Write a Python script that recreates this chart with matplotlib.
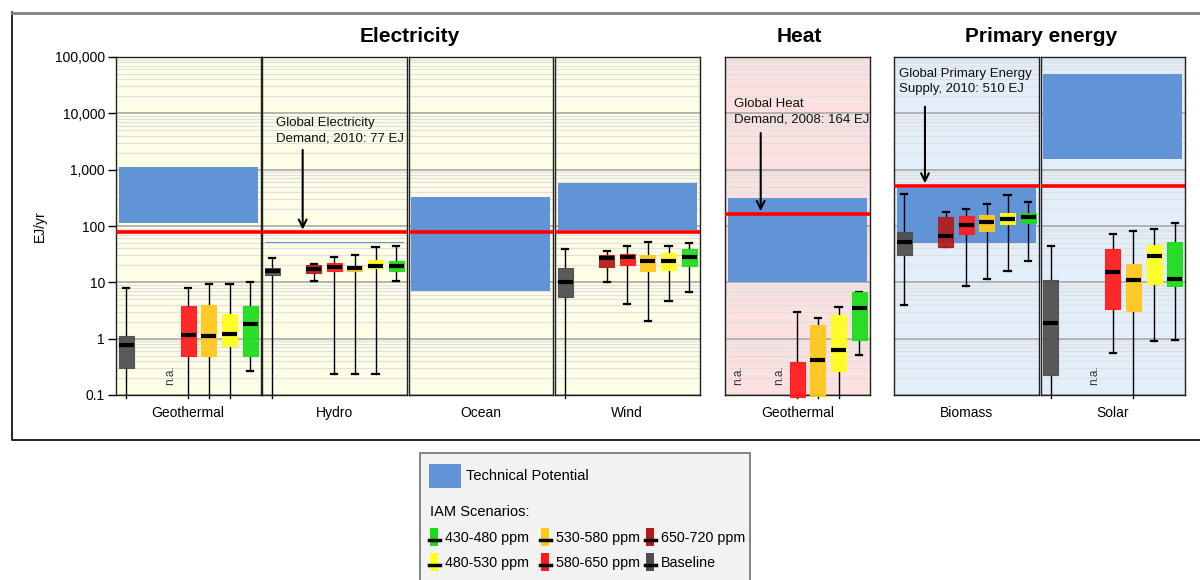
import numpy as np
import matplotlib.pyplot as plt
from matplotlib.patches import Rectangle

plt.rcParams['font.family'] = ['Liberation Sans', 'DejaVu Sans']

# ---------- data (EJ/yr) ----------
series = ['Baseline', '650-720 ppm', '580-650 ppm', '530-580 ppm', '480-530 ppm', '430-480 ppm']
colors = ['#4d4d4d', '#b31b1b', '#ff1a1a', '#ffc81a', '#ffff1a', '#1adc1a']
slots = [0, 2, 3, 4, 5, 6]          # slot 1 is left empty

panels = ['Geothermal', 'Hydro', 'Ocean', 'Wind', 'Geothermal', 'Biomass', 'Solar']
groups = ['Electricity', 'Electricity', 'Electricity', 'Electricity', 'Heat',
          'Primary energy', 'Primary energy']
backgrounds = {'Electricity': '#fefee6', 'Heat': '#fde1e1', 'Primary energy': '#e3eefb'}

# technical potential (low, high)
tech_potential = [(115, 1100), (49.5, 52.5), (7.1, 327), (85, 570), (10, 320),
                  (49, 480), (1545, 50000)]

# box rows: [whisker low, q1, median, q3, whisker high]; None = n.a.; 'skip' = nothing
geo_elec = [[0.09, 0.30, 0.77, 1.1, 8.0],
            None,
            [0.09, 0.50, 1.15, 3.8, 8.0],
            [0.09, 0.50, 1.10, 3.9, 9.2],
            [0.09, 0.74, 1.20, 2.7, 9.4],
            [0.27, 0.50, 1.80, 3.8, 10.0]]
hydro = [[0.09, 13.5, 16.1, 18.2, 27],
         [10.4, 14.5, 17.5, 20.3, 21],
         [0.24, 15.9, 18.5, 21.7, 28],
         [0.24, 16.1, 18.0, 19.8, 30.5],
         [0.24, 17.7, 19.8, 24.9, 42],
         [10.7, 16.1, 19.2, 23.9, 45]]
ocean = ['skip'] * 6
wind = [[0.09, 5.5, 10.0, 18.2, 39],
        [10.3, 19.0, 27.0, 30.5, 35.5],
        [4.2, 20.0, 28.2, 31.4, 44],
        [2.1, 15.7, 23.6, 30.5, 51],
        [4.7, 16.6, 23.6, 32.7, 45],
        [6.6, 19.8, 28.2, 38.6, 49]]
geo_heat = [None,
            None,
            [0.09, 0.092, 0.08, 0.385, 3.0],
            [0.09, 0.097, 0.41, 1.75, 2.35],
            [0.09, 0.27, 0.64, 2.6, 3.7],
            [0.51, 0.95, 3.5, 6.6, 6.6]]
biomass = [[3.9, 30, 51, 77, 365],
           [43, 43, 66, 145, 175],
           [8.6, 73, 104, 152, 203],
           [11.5, 81, 116, 157, 243],
           [15.7, 110, 135, 170, 350],
           [23.6, 113, 145, 170, 270]]
solar = [[0.09, 0.23, 1.9, 11, 44],
         None,
         [0.55, 3.4, 15, 39.5, 71],
         [0.09, 3.1, 10.9, 21, 82],
         [0.9, 9.5, 29, 46, 87],
         [0.93, 8.7, 11.3, 52, 112]]
boxes = [geo_elec, hydro, ocean, wind, geo_heat, biomass, solar]

# global demand lines
demand = {'Electricity': 77, 'Heat': 164, 'Primary energy': 510}
demand_text = {'Electricity': 'Global Electricity\nDemand, 2010: 77 EJ',
               'Heat': 'Global Heat\nDemand, 2008: 164 EJ',
               'Primary energy': 'Global Primary Energy\nSupply, 2010: 510 EJ'}

yticks = [0.1, 1, 10, 100, 1000, 10000, 100000]
yticklabels = ['0.1', '1', '10', '100', '1,000', '10,000', '100,000']

# ---------- layout (pixels) ----------
W, H = 1200, 580
lefts = [116, 262, 408.5, 555, 725, 894, 1040.5]
pw = 144.5
top, bottom = 57, 395

fig = plt.figure(figsize=(12, 5.8), dpi=100)

ov = fig.add_axes([0, 0, 1, 1])
ov.set_xlim(0, W)
ov.set_ylim(H, 0)
ov.axis('off')
ov.set_zorder(-1)
ov.plot([12, 12, 1215], [12, 440, 440], color='black', lw=1.2)
ov.plot([12, 1215], [12.5, 12.5], color='#808080', lw=2)

axes = []
for i, name in enumerate(panels):
    ax = fig.add_axes([lefts[i] / W, 1 - bottom / H, pw / W, (bottom - top) / H])
    axes.append(ax)
    ax.set_facecolor(backgrounds[groups[i]])
    ax.set_yscale('log')
    ax.set_ylim(0.1, 1e5)
    ax.set_xlim(0, 7)
    ax.set_xticks([])
    ax.yaxis.set_minor_locator(plt.matplotlib.ticker.LogLocator(base=10, subs=np.arange(2, 10)))
    ax.grid(True, which='major', axis='y', color='#a8a8a8', lw=1.2, zorder=0)
    ax.grid(True, which='minor', axis='y', color='#e0e0e0', lw=0.9, zorder=0)
    ax.set_axisbelow(True)
    ax.tick_params(which='minor', length=0, labelleft=False)
    if i == 0:
        ax.set_yticks(yticks, yticklabels)
        ax.tick_params(which='major', length=6, width=1, labelsize=10, pad=2)
        ax.set_ylabel('EJ/yr', fontsize=10, labelpad=6)
    else:
        ax.set_yticks(yticks, [''] * len(yticks))
        ax.tick_params(which='major', length=0)
    for s in ax.spines.values():
        s.set_color('#202020')
        s.set_linewidth(1.0)
    ax.text(0.5, -0.053, name, transform=ax.transAxes, ha='center', va='center', fontsize=10)

    tp = tech_potential[i]
    if tp is not None:
        ax.axhspan(tp[0], tp[1], xmin=0.02, xmax=0.98, color='#6194d6', lw=0, zorder=1)

    ax.axhline(demand[groups[i]], color='#ff0000', lw=2.6, zorder=6)

    for row, slot, col in zip(boxes[i], slots, colors):
        if row == 'skip':
            continue
        if row is None:
            ax.text(slot + 0.62, 0.15, 'n.a.', rotation=90, ha='center', va='bottom',
                    fontsize=8.5, color='#333333')
            continue
        st = dict(whislo=row[0], q1=row[1], med=row[2], q3=row[3], whishi=row[4])
        art = ax.bxp([st], positions=[slot + 0.5], widths=0.73, capwidths=0.3,
                     patch_artist=True, showfliers=False,
                     boxprops=dict(facecolor=col, edgecolor=col, lw=0.8, alpha=0.93),
                     medianprops=dict(color='black', lw=3),
                     whiskerprops=dict(color='black', lw=1),
                     capprops=dict(color='black', lw=1.6), manage_ticks=False)
        for b in art['boxes']:
            b.set_zorder(3)
            b.set_clip_on(False)
        for w in art['whiskers']:
            w.set_zorder(2)
            w.set_clip_on(False)
        for c in art['caps']:
            c.set_zorder(2)
        for m in art['medians']:
            m.set_zorder(4)

# demand annotations
ann = [(1, 'Electricity', 0.66, 0.823, 1.97, 0.725),
       (4, 'Heat', 0.44, 0.880, 1.73, 0.775),
       (5, 'Primary energy', 0.24, 0.968, 1.5, 0.853)]
for idx, grp, tx, ty, ax_x, ay in ann:
    ax = axes[idx]
    ax.text(tx / 7, ty, demand_text[grp], transform=ax.transAxes, ha='left', va='top',
            fontsize=9.5, linespacing=1.4, color='#111111', zorder=7)
    ax.annotate('', xy=(ax_x, demand[grp] * 1.12), xycoords='data',
                xytext=(ax_x / 7, ay), textcoords='axes fraction',
                arrowprops=dict(arrowstyle='->', color='black', lw=1.5,
                                mutation_scale=14, shrinkA=0, shrinkB=0), zorder=7)

# group titles
for grp in ['Electricity', 'Heat', 'Primary energy']:
    idx = [i for i, g in enumerate(groups) if g == grp]
    cx = (lefts[idx[0]] + lefts[idx[-1]] + pw) / 2
    ov.text(cx + 2, 37, grp, ha='center', va='center', fontsize=15, fontweight='bold')

# legend
ov.add_patch(Rectangle((420, 453), 330, 140, facecolor='#f2f2f2', edgecolor='#707070', lw=1.2))
ov.add_patch(Rectangle((429, 464), 32, 24, facecolor='#6194d6', edgecolor='none'))
ov.text(466, 476, 'Technical Potential', ha='left', va='center', fontsize=10.5)
ov.text(430, 512, 'IAM Scenarios:', ha='left', va='center', fontsize=10.5)
leg_order = ['430-480 ppm', '480-530 ppm', '530-580 ppm', '580-650 ppm', '650-720 ppm', 'Baseline']
col_x = [430, 541, 646]
row_y = [538, 563]
for k, lab in enumerate(leg_order):
    cx, cy = col_x[k // 2], row_y[k % 2]
    ov.add_patch(Rectangle((cx, cy - 10), 8, 18, facecolor=colors[series.index(lab)], edgecolor='none'))
    ov.plot([cx - 1, cx + 10], [cy + 2, cy + 2], color='black', lw=2.5)
    ov.text(cx + 15, cy, lab, ha='left', va='center', fontsize=10.3)

fig.savefig('out.png', dpi=100)
